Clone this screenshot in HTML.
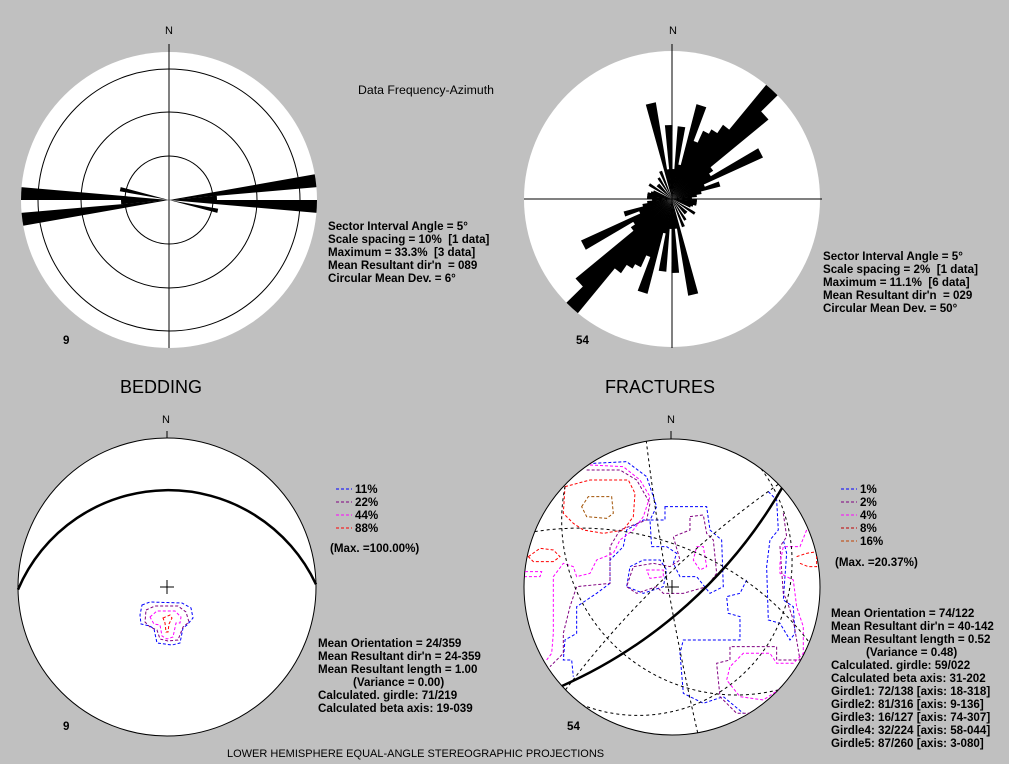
<!DOCTYPE html>
<html><head><meta charset="utf-8">
<style>
html,body{margin:0;padding:0;background:#c0c0c0;}
svg{display:block;}
text{font-family:"Liberation Sans",sans-serif;font-size:11px;fill:#000;white-space:pre;}
.b{font-weight:bold;font-size:11.6px;}
</style></head>
<body>
<svg id="s" width="1009" height="764" viewBox="0 0 1009 764" xmlns="http://www.w3.org/2000/svg" xml:space="preserve">
<rect width="1009" height="764" fill="#c0c0c0"/>
<defs>
<clipPath id="c1"><circle cx="169" cy="200" r="148"/></clipPath>
<clipPath id="c2"><circle cx="672" cy="199" r="148"/></clipPath>
<clipPath id="c4"><circle cx="672" cy="587" r="148"/></clipPath>
</defs>
<circle cx="169" cy="200" r="148" fill="#fff"/>
<g fill="none" stroke="#000" stroke-width="1">
<circle cx="169" cy="200" r="44"/><circle cx="169" cy="200" r="88"/><circle cx="169" cy="200" r="131"/>
</g>
<g id="rose1" clip-path="url(#c1)"></g>
<line x1="169" y1="44" x2="169" y2="348" stroke="#000"/>
<circle cx="672" cy="199" r="148" fill="#fff"/>
<g id="rose2" clip-path="url(#c2)"></g>
<line x1="672" y1="44" x2="672" y2="348" stroke="#000"/>
<line x1="524" y1="199" x2="822" y2="199" stroke="#000"/>
<circle cx="167" cy="587" r="149" fill="#fff" stroke="#000"/>
<line x1="167" y1="431" x2="167" y2="438" stroke="#000"/>
<g id="gl"></g>
<line x1="160" y1="587" x2="174" y2="587" stroke="#000"/><line x1="167" y1="580" x2="167" y2="594" stroke="#000"/>
<g fill="none" stroke-width="1" stroke-dasharray="3,2">
<path d="M142,605 L150,602 L182,603 L191,608 L193,618 L187,625 L183,628 L180,643 L172,645 L157,643 L154,629 L150,626 L141,624 L140,615 Z" stroke="#0000ff"/>
<path d="M146,610 L155,606 L178,606 L186,612 L189,622 L183,627 L178,640 L168,641 L160,639 L157,630 L150,627 L145,622 Z" stroke="#800080"/>
<path d="M150,617 L157,611 L175,611 L181,617 L180,623 L176,623 L173,637 L167,639 L162,636 L160,625 L154,624 Z" stroke="#ff00ff"/>
<path d="M163,618 L170,615 L172,618 L169,624 L168,632 L166,632 L165,623 Z" stroke="#ff0000"/>
</g>
<circle cx="672" cy="587" r="148" fill="#fff" stroke="#000"/>
<line x1="671" y1="431" x2="671" y2="439" stroke="#000"/>
<g clip-path="url(#c4)">
<g transform="translate(510,420) scale(0.3333)" fill="none" stroke-width="3" stroke-dasharray="9,6">
<path stroke="#0000ff" d="M465,260 L590,260 L600,330 L635,360 L640,500 L600,520 L560,470 L510,470 L490,430 L500,400 L470,380 L425,380 L420,300 L465,300 Z"/>
<path stroke="#0000ff" d="M250,130 L350,125 L410,170 L440,260 L420,300 L400,300 L350,330 L340,380 L300,420 L300,490 L260,520 L200,560 L200,640 L165,660 L160,720 L185,720 L190,770"/>
<path stroke="#0000ff" d="M775,215 L800,240 L805,330 L780,360 L770,440 L775,600 L810,610 L840,660 L855,640 L850,560 L820,540 L830,400 L820,360"/>
<path stroke="#0000ff" d="M710,480 L690,520 L650,530 L655,580 L690,590 L690,660 L600,660 L520,660 L510,700 L520,820 L580,850 L640,830 L700,880"/>
<path stroke="#0000ff" d="M360,440 L400,420 L450,420 L470,450 L460,500 L400,520 L350,500 Z"/>
<path stroke="#800080" d="M230,150 L330,150 L380,180 L420,250 L410,300 L330,330 L300,380 L300,490 L200,500 L180,560 L160,640 L160,700 L120,740"/>
<path stroke="#800080" d="M540,290 L580,285 L590,340 L610,360 L620,460 L590,500 L520,520 L460,520 L440,500 L380,520 L350,500 L370,440 L430,430 L480,440 L510,420 L490,350 L540,330 Z"/>
<path stroke="#800080" d="M820,280 L830,350 L810,380 L820,520 L830,540 L850,600 L870,720 L800,720 L800,680 L660,680 L660,720 L620,730 L630,830 L680,880 L720,880"/>
<path stroke="#ff00ff" d="M240,135 L340,140 L390,180 L420,230 L400,290 L370,330 L330,360 L310,400 L260,420 L240,460 L200,470 L190,440 L160,430 L130,470 L130,560 L130,640 L125,700 L110,720"/>
<path stroke="#ff00ff" d="M560,380 L580,380 L590,440 L570,450 L550,420 Z"/>
<path stroke="#ff00ff" d="M410,450 L460,450 L460,470 L420,475 Z"/>
<path stroke="#ff00ff" d="M890,330 L870,380 L820,380 L810,430 L810,460 L850,480 L860,560 L880,620 L880,700 L850,730 L800,730 L780,700 L700,700 L660,740 L650,780 L690,830 L760,840 L820,800 L850,760"/>
<path stroke="#ff00ff" d="M45,455 L95,455 L90,470 L45,470"/>
<path stroke="#ff0000" d="M165,200 L240,180 L355,180 L375,220 L370,290 L340,330 L280,340 L220,330 L190,310 L160,280 Z"/>
<path stroke="#ff0000" d="M55,410 L90,385 L130,390 L150,410 L130,425 L70,425 Z"/>
<path stroke="#ff0000" d="M860,410 L890,400 L920,395 L920,440 L895,440 L870,430"/>
<path stroke="#a05000" d="M215,260 L235,230 L305,230 L310,280 L290,295 L230,290 Z"/>
</g>
<g id="gr"></g>
</g>
<line x1="665" y1="587" x2="679" y2="587" stroke="#000"/><line x1="672" y1="580" x2="672" y2="594" stroke="#000"/>

<text x="165" y="34">N</text>
<text x="669" y="34">N</text>
<text x="162" y="423">N</text>
<text x="667" y="423">N</text>
<text class="b" x="63" y="344">9</text>
<text class="b" x="576" y="344">54</text>
<text class="b" x="63" y="730">9</text>
<text class="b" x="567" y="730">54</text>
<text x="358" y="94" style="font-size:12.3px">Data Frequency-Azimuth</text>
<text class="b" x="328" y="230">Sector Interval Angle = 5°</text>
<text class="b" x="328" y="243">Scale spacing = 10%  [1 data]</text>
<text class="b" x="328" y="256">Maximum = 33.3%  [3 data]</text>
<text class="b" x="328" y="269">Mean Resultant dir'n  = 089</text>
<text class="b" x="328" y="282">Circular Mean Dev. = 6°</text>
<text class="b" x="823" y="260">Sector Interval Angle = 5°</text>
<text class="b" x="823" y="273">Scale spacing = 2%  [1 data]</text>
<text class="b" x="823" y="286">Maximum = 11.1%  [6 data]</text>
<text class="b" x="823" y="299">Mean Resultant dir'n  = 029</text>
<text class="b" x="823" y="312">Circular Mean Dev. = 50°</text>
<text x="120" y="393" style="font-size:18px">BEDDING</text>
<text x="605" y="393" style="font-size:18px">FRACTURES</text>
<g stroke-width="1" stroke-dasharray="3,2">
<line x1="336" y1="489" x2="352" y2="489" stroke="#0000ff"/>
<line x1="336" y1="502" x2="352" y2="502" stroke="#800080"/>
<line x1="336" y1="515" x2="352" y2="515" stroke="#ff00ff"/>
<line x1="336" y1="528" x2="352" y2="528" stroke="#ff0000"/>
<line x1="841" y1="489" x2="857" y2="489" stroke="#0000ff"/>
<line x1="841" y1="502" x2="857" y2="502" stroke="#800080"/>
<line x1="841" y1="515" x2="857" y2="515" stroke="#ff00ff"/>
<line x1="841" y1="528" x2="857" y2="528" stroke="#c00000"/>
<line x1="841" y1="541" x2="857" y2="541" stroke="#c04000"/>
</g>
<text class="b" x="355" y="493">11%</text>
<text class="b" x="355" y="506">22%</text>
<text class="b" x="355" y="519">44%</text>
<text class="b" x="355" y="532">88%</text>
<text class="b" x="330" y="552">(Max. =100.00%)</text>
<text class="b" x="860" y="493">1%</text>
<text class="b" x="860" y="506">2%</text>
<text class="b" x="860" y="519">4%</text>
<text class="b" x="860" y="532">8%</text>
<text class="b" x="860" y="545">16%</text>
<text class="b" x="835" y="566">(Max. =20.37%)</text>
<text class="b" x="318" y="647">Mean Orientation = 24/359</text>
<text class="b" x="318" y="660">Mean Resultant dir'n = 24-359</text>
<text class="b" x="318" y="673">Mean Resultant length = 1.00</text>
<text class="b" x="353" y="686">(Variance = 0.00)</text>
<text class="b" x="318" y="699">Calculated. girdle: 71/219</text>
<text class="b" x="318" y="712">Calculated beta axis: 19-039</text>
<text class="b" x="831" y="617">Mean Orientation = 74/122</text>
<text class="b" x="831" y="630">Mean Resultant dir'n = 40-142</text>
<text class="b" x="831" y="643">Mean Resultant length = 0.52</text>
<text class="b" x="866" y="656">(Variance = 0.48)</text>
<text class="b" x="831" y="669">Calculated. girdle: 59/022</text>
<text class="b" x="831" y="682">Calculated beta axis: 31-202</text>
<text class="b" x="831" y="695">Girdle1: 72/138 [axis: 18-318]</text>
<text class="b" x="831" y="708">Girdle2: 81/316 [axis: 9-136]</text>
<text class="b" x="831" y="721">Girdle3: 16/127 [axis: 74-307]</text>
<text class="b" x="831" y="734">Girdle4: 32/224 [axis: 58-044]</text>
<text class="b" x="831" y="747">Girdle5: 87/260 [axis: 3-080]</text>
<text x="227" y="757">LOWER HEMISPHERE EQUAL-ANGLE STEREOGRAPHIC PROJECTIONS</text>
</svg>
<script>
(function(){
var NS="http://www.w3.org/2000/svg";
function el(p,t,a){var e=document.createElementNS(NS,t);for(var k in a)e.setAttribute(k,a[k]);p.appendChild(e);return e;}
var R=Math.PI/180;
function wedge(g,cx,cy,a1,a2,L){
  var x1=cx+L*Math.sin(a1*R),y1=cy-L*Math.cos(a1*R),x2=cx+L*Math.sin(a2*R),y2=cy-L*Math.cos(a2*R);
  el(g,"path",{d:"M"+cx+","+cy+" L"+x1.toFixed(1)+","+y1.toFixed(1)+" L"+x2.toFixed(1)+","+y2.toFixed(1)+"Z",fill:"#000"});
}
var g1=document.getElementById("rose1");
[[80,160],[90,160],[85,48],[100,50]].forEach(function(p){
  wedge(g1,169,200,p[0],p[0]+5,p[1]);wedge(g1,169,200,p[0]+180,p[0]+185,p[1]);
});
var g2=document.getElementById("rose2");
var pts=[[345,98],[355,74],[5,73],[15,98],[20,62],[25,75],[30,80],[35,90],[40,155],[45,125],[50,50],[55,45],[60,100],[65,35],[70,50],[75,30],[80,25],[85,20],[90,25],[95,25],[100,25],[110,20],[120,27],[130,20],[145,25],[155,20],[0,30],[10,35],[350,30],[335,30],[325,24],[315,20],[300,25],[285,22],[280,24]];
pts.forEach(function(p){wedge(g2,672,199,p[0]-0.5,p[0]+5.5,p[1]);wedge(g2,672,199,p[0]+179.5,p[0]+185.5,p[1]);});
function gc(g,cx,cy,Rr,dip,dd,attrs){
  var s=dd-90;
  var p1=[cx+Rr*Math.sin(s*R),cy-Rr*Math.cos(s*R)],p2=[cx-Rr*Math.sin(s*R),cy+Rr*Math.cos(s*R)];
  var d=Rr*Math.tan((90-dip)/2*R);
  var m=[cx+d*Math.sin(dd*R),cy-d*Math.cos(dd*R)];
  var rho=Rr/Math.cos(dip*R);
  var dx=p2[0]-p1[0],dy=p2[1]-p1[1],mx=m[0]-p1[0],my=m[1]-p1[1];
  var cr=dx*my-dy*mx;var sw=cr<0?1:0;
  attrs.d="M"+p1[0].toFixed(1)+","+p1[1].toFixed(1)+" A"+rho.toFixed(1)+","+rho.toFixed(1)+" 0 0 "+sw+" "+p2[0].toFixed(1)+","+p2[1].toFixed(1);
  attrs.fill="none";
  el(g,"path",attrs);
}
gc(document.getElementById("gl"),167,587,149,24,359,{stroke:"#000","stroke-width":"2.5"});
var gr=document.getElementById("gr");
[[81,316],[16,127],[32,224],[87,260],[59,22]].forEach(function(p){
  gc(gr,672,587,148,p[0],p[1],{stroke:"#000","stroke-width":"1","stroke-dasharray":"3,3"});
});
gc(gr,672,587,148,72,138,{stroke:"#000","stroke-width":"2.5"});
})();
</script>
</body></html>
